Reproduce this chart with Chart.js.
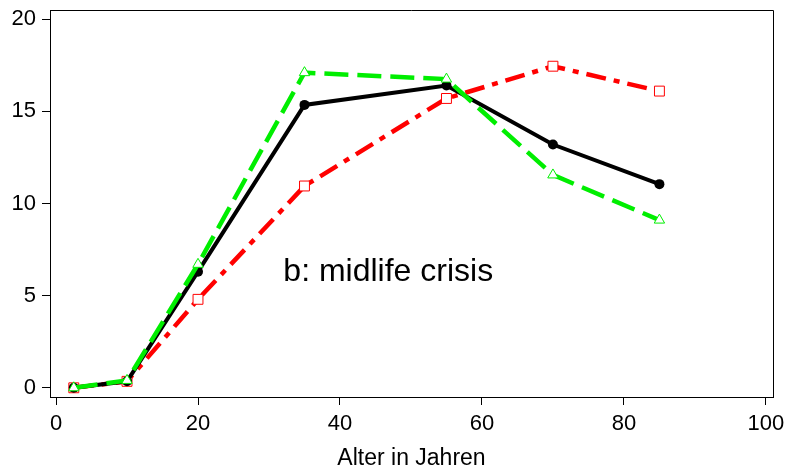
<!DOCTYPE html>
<html>
<head>
<meta charset="utf-8">
<script src="https://cdn.jsdelivr.net/npm/chart.js@4/dist/chart.umd.min.js"></script>
<style>
  html, body { margin: 0; padding: 0; background: #fff; }
  #wrap { width: 790px; height: 473px; }
</style>
</head>
<body>
<div id="wrap"><canvas id="chart_id"></canvas></div>
<script>
// age groups (x) and the three curves
const ages = [2.5, 10, 20, 35, 55, 70, 85];
const black_vals = [0, 0.35, 6.3, 15.35, 16.4, 13.2, 11.05];
const green_vals = [0, 0.4, 6.7, 17.1, 16.75, 11.55, 9.1];
const red_vals = [0, 0.35, 4.8, 10.95, 15.7, 17.45, 16.1];

const x_ticks = [0, 20, 40, 60, 80, 100];
const y_ticks = [0, 5, 10, 15, 20];
const x_title = "Alter in Jahren";
const note_text = "b: midlife crisis";
const note_pos = { x: 46.8, y: 6.3 };

const FONT = "'Liberation Sans', Arial, Helvetica, sans-serif";

function toPoints(vals) {
  return ages.map((a, i) => ({ x: a, y: vals[i] }));
}

// frame round the plot region + the text note
const box_plugin = {
  id: "box_plugin",
  afterDraw(chart) {
    const ctx = chart.ctx;
    const a = chart.chartArea;
    ctx.save();
    ctx.strokeStyle = "#000";
    ctx.lineWidth = 1;
    ctx.beginPath();
    ctx.moveTo(a.left, a.top + 0.5);
    ctx.lineTo(a.right + 0.5, a.top + 0.5);
    ctx.lineTo(a.right + 0.5, a.bottom);
    ctx.stroke();
    const sx = chart.scales.x, sy = chart.scales.y;
    ctx.fillStyle = "#000";
    ctx.font = "32px " + FONT;
    ctx.textAlign = "center";
    ctx.textBaseline = "middle";
    ctx.fillText(note_text, sx.getPixelForValue(note_pos.x), sy.getPixelForValue(note_pos.y));
    ctx.restore();
  }
};

const config = {
  type: "line",
  data: {
    datasets: [
      {
        label: "green",
        data: toPoints(green_vals),
        borderColor: "#00ee00",
        borderWidth: 4.5,
        borderDash: [24, 9],
        pointStyle: "triangle",
        pointRadius: 6,
        pointBorderWidth: 1,
        pointBorderColor: "#00ee00",
        pointBackgroundColor: "#fff",
        order: 1,
      },
      {
        label: "black",
        data: toPoints(black_vals),
        borderColor: "#000",
        borderWidth: 4,
        pointStyle: "circle",
        pointRadius: 5,
        pointBorderWidth: 0,
        pointBackgroundColor: "#000",
        order: 2,
      },
      {
        label: "red",
        data: toPoints(red_vals),
        borderColor: "#ff0000",
        borderWidth: 4.5,
        borderDash: [20, 8, 6, 8],
        pointStyle: "rect",
        pointRadius: 7,
        pointBorderWidth: 1,
        pointBorderColor: "#ff0000",
        pointBackgroundColor: "#fff",
        order: 3,
      },
    ],
  },
  options: {
    responsive: true,
    maintainAspectRatio: false,
    animation: false,
    layout: { padding: { top: 10, right: 17, left: 0, bottom: 0 } },
    plugins: { legend: { display: false }, tooltip: { enabled: false } },
    scales: {
      x: {
        type: "linear",
        min: -0.85,
        max: 101,
        afterBuildTicks: (s) => { s.ticks = x_ticks.map(v => ({ value: v })); },
        afterFit: (s) => { s.height = 76; s.paddingLeft = 0; s.paddingRight = 0; },
        grid: { drawOnChartArea: false, drawTicks: true, tickLength: 8, color: "#000" },
        border: { display: true, color: "#000", width: 1 },
        ticks: { color: "#000", font: { family: FONT, size: 22 }, padding: 6, maxRotation: 0 },
        title: { display: true, text: x_title, color: "#000", font: { family: FONT, size: 23 }, padding: { top: 4, bottom: 1 } },
      },
      y: {
        type: "linear",
        min: -0.5,
        max: 20.5,
        afterBuildTicks: (s) => { s.ticks = y_ticks.map(v => ({ value: v })); },
        afterFit: (s) => { s.width = 50; s.paddingTop = 0; s.paddingBottom = 0; },
        grid: { drawOnChartArea: false, drawTicks: true, tickLength: 8, color: "#000" },
        border: { display: true, color: "#000", width: 1 },
        ticks: { color: "#000", font: { family: FONT, size: 22 }, padding: 6 },
      },
    },
  },
  plugins: [box_plugin],
};

new Chart(document.getElementById("chart_id"), config);
</script>
</body>
</html>
